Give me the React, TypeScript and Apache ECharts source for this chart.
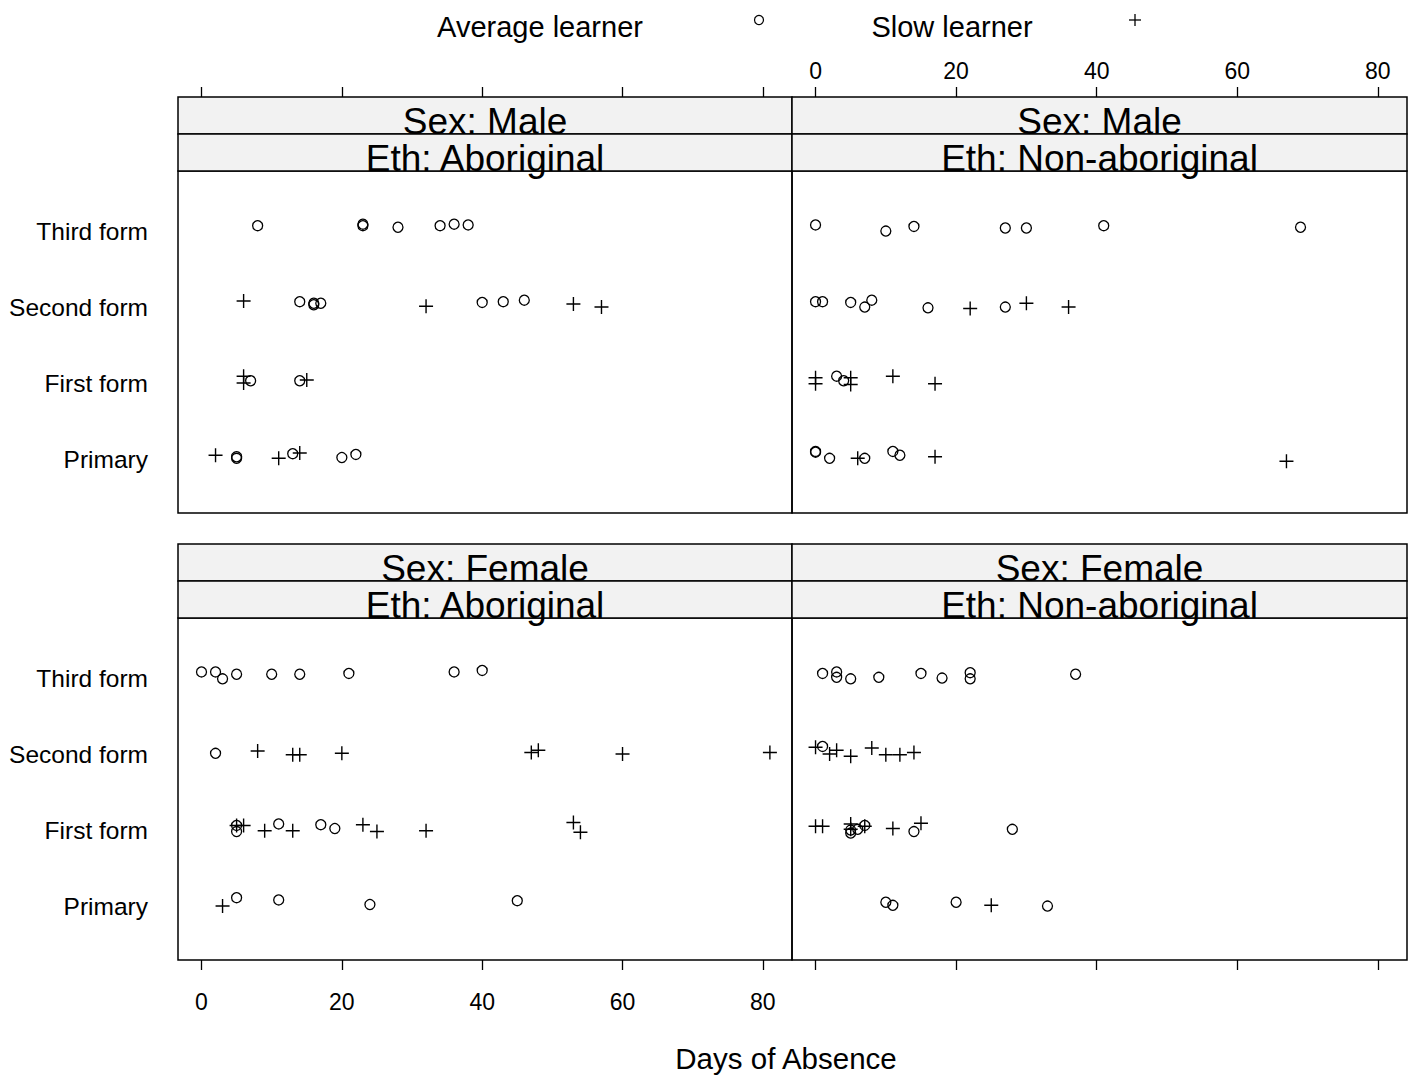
import React, { useEffect, useRef } from "react";
import * as echarts from "echarts";

// ---- Data (days of absence, jittered position on the form axis: 1=Primary ... 4=Third form) ----
const forms = ["Primary", "First form", "Second form", "Third form"];
const xTicks = [0, 20, 40, 60, 80];

const maleAborigAvg: [number, number][] = [
  [8, 4.08], [23, 4.1], [23, 4.08], [28, 4.06], [34, 4.08], [36, 4.1], [38, 4.09],
  [14, 3.08], [16, 3.06], [16, 3.04], [17, 3.06], [40, 3.07], [43, 3.08], [46, 3.1],
  [7, 2.04], [14, 2.04],
  [5, 1.02], [5, 1.04], [13, 1.08], [20, 1.03], [22, 1.07],
];
const maleAborigSlow: [number, number][] = [
  [6, 3.09], [32, 3.02], [53, 3.05], [57, 3.01],
  [6, 2.1], [6, 2.01], [15, 2.05],
  [2, 1.06], [11, 1.02], [14, 1.09],
];
const maleNonAvg: [number, number][] = [
  [0, 4.09], [10, 4.01], [14, 4.07], [27, 4.05], [30, 4.05], [41, 4.08], [69, 4.06],
  [0, 3.08], [1, 3.08], [5, 3.07], [7, 3.01], [8, 3.1], [16, 3.0], [27, 3.01],
  [3, 2.1], [4, 2.04],
  [0, 1.11], [0, 1.1], [2, 1.02], [7, 1.02], [11, 1.11], [12, 1.06],
];
const maleNonSlow: [number, number][] = [
  [22, 2.99], [30, 3.06], [36, 3.01],
  [0, 2.08], [0, 2.0], [5, 2.08], [5, 1.99], [11, 2.1], [17, 2.0],
  [6, 1.02], [17, 1.04], [67, 0.98],
];
const femaleAborigAvg: [number, number][] = [
  [0, 4.09], [2, 4.09], [3, 4.0], [5, 4.06], [10, 4.06], [14, 4.06], [21, 4.07], [36, 4.09], [40, 4.11],
  [2, 3.02],
  [5, 2.07], [5, 1.99], [11, 2.09], [17, 2.08], [19, 2.03],
  [5, 1.12], [11, 1.09], [24, 1.03], [45, 1.08],
];
const femaleAborigSlow: [number, number][] = [
  [8, 3.05], [13, 3.0], [14, 3.0], [20, 3.02], [47, 3.03], [48, 3.06], [60, 3.01], [81, 3.03],
  [5, 2.07], [6, 2.07], [9, 2.0], [13, 2.0], [23, 2.08], [25, 1.99], [32, 2.0], [53, 2.11], [54, 1.98],
  [3, 1.01],
];
const femaleNonAvg: [number, number][] = [
  [1, 4.07], [3, 4.09], [3, 4.02], [5, 4.0], [9, 4.02], [15, 4.07], [18, 4.01], [22, 4.08], [22, 4.0], [37, 4.06],
  [1, 3.11],
  [5, 2.01], [5, 1.97], [6, 2.02], [7, 2.07], [14, 1.99], [28, 2.02],
  [10, 1.06], [11, 1.02], [20, 1.06], [33, 1.01],
];
const femaleNonSlow: [number, number][] = [
  [0, 3.1], [2, 3.01], [3, 3.06], [5, 2.98], [8, 3.09], [10, 3.0], [12, 3.0], [14, 3.03],
  [0, 2.06], [1, 2.06], [5, 2.09], [5, 2.02], [7, 2.06], [11, 2.03], [15, 2.1],
  [25, 1.02],
];

const FONT = "'Liberation Sans', Arial, Helvetica, sans-serif";
const PLUS = "path://M0,10L20,10M10,0L10,20";

export default function App() {
  const ref = useRef<HTMLDivElement>(null);
  useEffect(() => {
    document.body.style.margin = "0";
    const chart = echarts.init(ref.current!, null, { renderer: "svg" });

    const panels = [
      { left: 178, top: 171, width: 614, sex: "Male", eth: "Aboriginal", avg: maleAborigAvg, slow: maleAborigSlow, xPos: "top", xLabels: false, yLabels: true },
      { left: 792, top: 171, width: 615, sex: "Male", eth: "Non-aboriginal", avg: maleNonAvg, slow: maleNonSlow, xPos: "top", xLabels: true, yLabels: false },
      { left: 178, top: 618, width: 614, sex: "Female", eth: "Aboriginal", avg: femaleAborigAvg, slow: femaleAborigSlow, xPos: "bottom", xLabels: true, yLabels: true },
      { left: 792, top: 618, width: 615, sex: "Female", eth: "Non-aboriginal", avg: femaleNonAvg, slow: femaleNonSlow, xPos: "bottom", xLabels: false, yLabels: false },
    ];
    const H = 342;
    const stripH = 37;

    const grid = panels.map((p) => ({
      left: p.left, top: p.top, width: p.width, height: H,
      show: true, borderColor: "#000", borderWidth: 1.5, backgroundColor: "transparent",
    }));

    const xAxis = panels.map((p, i) => ({
      type: "value", gridIndex: i, min: -3.35, max: 84.15,
      position: p.xPos, offset: p.xPos === "top" ? 2 * stripH : 0,
      axisLine: { show: false },
      splitLine: { show: false },
      axisTick: { show: true, customValues: xTicks, length: 10, inside: false, lineStyle: { color: "#000", width: 1.3 } },
      axisLabel: {
        show: p.xLabels, customValues: xTicks, color: "#000", fontSize: 23, fontFamily: FONT,
        margin: p.xPos === "top" ? 15 : 30,
      },
    }));

    const yAxis = panels.map((p, i) => ({
      type: "value", gridIndex: i, min: 0.3, max: 4.8,
      axisLine: { show: false }, axisTick: { show: false }, splitLine: { show: false },
      axisLabel: {
        show: p.yLabels, customValues: [1, 2, 3, 4],
        formatter: (v: number) => forms[Math.round(v) - 1] ?? "",
        color: "#000", fontSize: 24.5, fontFamily: FONT, margin: 30,
      },
    }));

    const series: any[] = [];
    panels.forEach((p, i) => {
      series.push({
        type: "scatter", xAxisIndex: i, yAxisIndex: i, data: p.avg,
        symbol: "circle", symbolSize: 10,
        itemStyle: { color: "transparent", borderColor: "#000", borderWidth: 1.3, opacity: 1 },
        emphasis: { disabled: true },
      });
      series.push({
        type: "scatter", xAxisIndex: i, yAxisIndex: i, data: p.slow,
        symbol: PLUS, symbolSize: 14,
        itemStyle: { color: "transparent", borderColor: "#000", borderWidth: 1.4, opacity: 1 },
        emphasis: { disabled: true },
      });
    });

    const graphic: any[] = [];
    panels.forEach((p) => {
      const sTop = p.top - 2 * stripH;
      [0, 1].forEach((k) => {
        graphic.push({
          type: "rect", z: 5,
          shape: { x: p.left, y: sTop + k * stripH, width: p.width, height: stripH },
          style: { fill: "#f2f2f2", stroke: "#000", lineWidth: 1.5 },
        });
      });
      [("Sex: " + p.sex), ("Eth: " + p.eth)].forEach((txt, k) => {
        graphic.push({
          type: "text", z: 10,
          x: p.left + p.width / 2, y: sTop + (k + 1) * stripH - 13,
          style: { text: txt, fontSize: 37, fontFamily: FONT, fill: "#000", textAlign: "center", textVerticalAlign: "middle" },
        });
      });
    });

    // legend
    graphic.push({ type: "text", x: 540, y: 27, style: { text: "Average learner", fontSize: 29, fontFamily: FONT, fill: "#000", textAlign: "center", textVerticalAlign: "middle" } });
    graphic.push({ type: "circle", shape: { cx: 759, cy: 20, r: 4.5 }, style: { fill: "none", stroke: "#000", lineWidth: 1.2 } });
    graphic.push({ type: "text", x: 952, y: 27, style: { text: "Slow learner", fontSize: 29, fontFamily: FONT, fill: "#000", textAlign: "center", textVerticalAlign: "middle" } });
    graphic.push({ type: "line", shape: { x1: 1129, y1: 20, x2: 1141, y2: 20 }, style: { stroke: "#000", lineWidth: 1.3 } });
    graphic.push({ type: "line", shape: { x1: 1135, y1: 14, x2: 1135, y2: 26 }, style: { stroke: "#000", lineWidth: 1.3 } });
    // x axis title
    graphic.push({ type: "text", x: 786, y: 1058, style: { text: "Days of Absence", fontSize: 29.5, fontFamily: FONT, fill: "#000", textAlign: "center", textVerticalAlign: "middle" } });

    chart.setOption({
      animation: false,
      backgroundColor: "#fff",
      grid, xAxis, yAxis, series, graphic,
    });
    return () => chart.dispose();
  }, []);
  return <div ref={ref} style={{ position: "absolute", left: 0, top: 0, width: 1417, height: 1075 }} />;
}
